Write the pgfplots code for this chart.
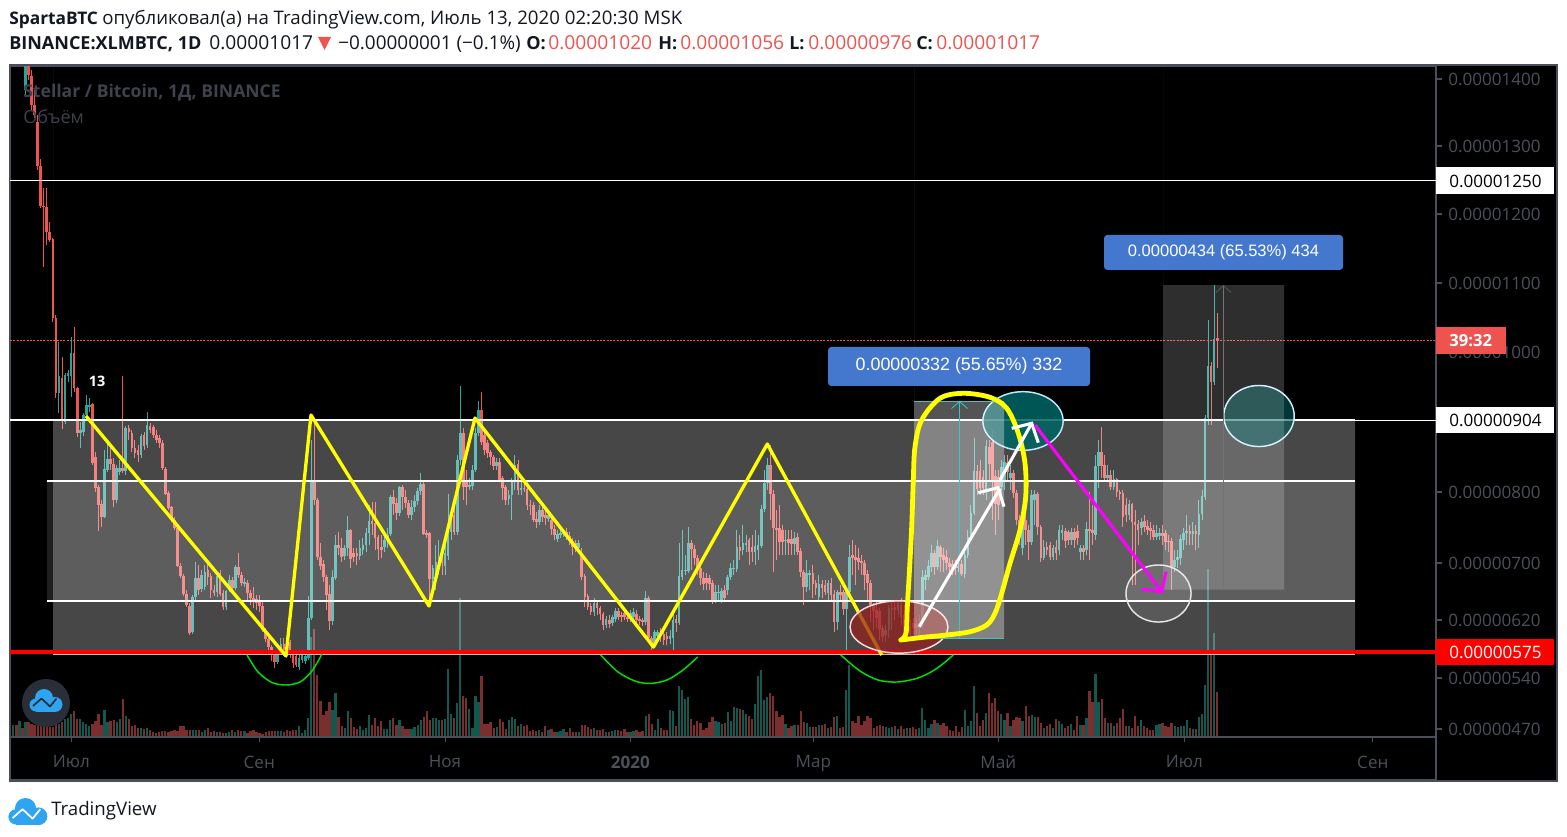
\documentclass[border=0pt]{standalone}
\usepackage{pgfplots}
\pgfplotsset{compat=1.18}
\usepackage{pgfplotstable}
\usepackage{fontspec}
\setmainfont{Open Sans}
\newfontfamily\arialf{Liberation Sans}
\definecolor{cred}{HTML}{EF5350}
\definecolor{cteal}{HTML}{26A69A}
\definecolor{vred}{HTML}{7A2E2D}
\definecolor{vteal}{HTML}{14574F}
\definecolor{axc}{HTML}{4A4E5A}
\definecolor{tkc}{HTML}{4C505B}
\definecolor{hdr}{HTML}{131722}
\definecolor{bluebox}{HTML}{4477CE}
\definecolor{cloudb}{HTML}{2FA4F0}
\definecolor{logod}{HTML}{2A2E39}
\definecolor{cyanl}{HTML}{35C8C8}
\definecolor{puremag}{HTML}{FF00FF}
\definecolor{pureyel}{HTML}{FFFF00}
\definecolor{purered}{HTML}{FF0000}
\definecolor{puregrn}{HTML}{00E000}
\newcommand{\fs}[1]{\fontsize{#1}{#1}\selectfont}
\pgfplotstableread{
i o c h l v
0 20 30 10 40 0
1 30 25 15 40 12
2 25 35 20 45 12
3 35 30 20 45 16
4 30 35 20 45 9
5 90 50 40 97 15
6 50 75 45 80 15
7 76 105 70 110 13
8 105 115 90 118 12
9 122 166 115 170 13
10 166 206 159 208 12
11 206 207 188 267 12
12 207 232 188 245 10
13 232 240 222 242 10
14 239 318 238 322 10
15 318 393 315 398 13
16 393 376 342 413 13
17 378 421 357 429 15
18 422 375 373 424 18
19 376 373 370 382 19
20 376 353 337 397 23
21 353 388 327 392 26
22 388 433 387 437 18
23 433 430 422 448 18
24 432 415 413 436 15
25 415 405 395 420 13
26 407 405 398 412 11
27 404 463 403 465 13
28 457 488 452 492 16
29 487 505 485 531 23
30 504 517 500 527 12
31 517 469 450 518 27
32 470 459 440 472 15
33 459 464 448 470 16
34 464 500 458 507 17
35 500 468 465 503 15
36 472 468 460 475 18
37 468 471 376 473 38
38 471 428 426 475 21
39 428 432 425 440 18
40 433 448 430 452 11
41 448 453 440 458 12
42 450 455 445 462 9
43 455 436 434 458 9
44 435 446 432 450 8
45 445 425 412 448 9
46 426 430 423 433 7
47 427 435 425 438 5
48 435 440 430 443 4
49 438 443 435 448 5
50 443 468 440 470 6
51 469 494 467 495 6
52 493 508 491 510 5
53 507 520 506 522 6
54 520 528 517 530 7
55 528 566 525 567 6
56 566 576 563 578 11
57 576 594 574 596 11
58 594 605 590 607 7
59 606 633 603 635 7
60 632 597 595 634 7
61 597 578 562 600 7
62 578 590 565 595 7
63 589 575 570 592 5
64 587 572 565 590 7
65 570 577 562 585 9
66 576 590 573 598 5
67 590 593 585 596 6
68 592 576 575 597 5
69 573 594 570 596 5
70 593 607 590 610 4
71 607 591 590 610 4
72 590 580 575 592 5
73 580 588 577 590 7
74 588 567 565 590 5
75 567 575 553 578 7
76 575 583 572 586 6
77 584 582 578 587 6
78 583 593 580 600 4
79 593 598 590 605 6
80 598 601 587 608 7
81 599 603 595 610 5
82 602 606 595 612 4
83 606 630 600 632 3
84 630 639 628 642 5
85 639 647 637 652 6
86 647 655 645 661 6
87 655 662 650 668 6
88 662 653 650 664 6
89 653 644 638 655 6
90 644 650 638 656 5
91 640 653 637 655 7
92 642 653 640 658 6
93 653 663 650 668 7
94 656 665 652 667 7
95 667 658 655 670 11
96 660 655 652 663 4
97 661 656 653 664 7
98 658 618 596 660 19
99 618 482 440 620 100
100 482 500 420 505 108
101 500 557 498 560 62
102 557 566 543 570 36
103 564 577 560 582 22
104 577 595 575 610 26
105 594 621 585 630 35
106 621 577 570 625 27
107 578 545 535 580 44
108 545 548 532 555 20
109 548 557 538 562 11
110 556 548 545 560 9
111 548 530 516 556 26
112 530 559 529 568 19
113 553 557 548 562 10
114 553 556 548 565 8
115 556 548 540 560 11
116 550 545 538 555 7
117 545 533 528 552 9
118 533 521 505 545 22
119 521 524 502 535 12
120 523 538 502 550 19
121 537 549 535 560 11
122 547 550 535 558 16
123 547 540 535 552 8
124 540 535 528 548 8
125 534 497 495 536 17
126 497 504 490 515 19
127 503 513 498 520 12
128 513 487 486 516 17
129 487 497 485 510 11
130 497 503 490 508 8
131 503 515 500 518 8
132 515 507 500 520 8
133 507 501 495 512 10
134 501 491 488 505 12
135 491 484 473 495 17
136 484 534 482 535 20
137 533 535 530 538 26
138 533 579 532 601 17
139 579 568 565 590 19
140 580 562 545 590 19
141 568 557 540 575 17
142 557 563 550 575 17
143 566 553 545 575 18
144 556 528 494 560 68
145 532 515 513 540 23
146 515 532 505 535 19
147 532 460 455 535 34
148 460 433 386 465 139
149 433 487 428 500 41
150 480 487 470 505 39
151 487 485 478 490 28
152 486 470 465 490 9
153 470 433 428 472 41
154 433 410 401 436 35
155 410 442 392 445 61
156 435 450 430 455 13
157 443 453 440 458 13
158 452 457 450 465 15
159 457 466 455 470 9
160 466 462 458 470 10
161 462 480 458 482 18
162 478 488 476 500 15
163 487 500 485 505 8
164 499 495 490 505 17
165 495 482 478 520 20
166 482 465 455 490 18
167 464 490 460 495 11
168 490 488 480 495 13
169 488 489 480 492 11
170 489 505 487 510 12
171 505 506 500 515 6
172 505 520 502 522 7
173 519 522 512 528 6
174 522 510 505 525 7
175 510 517 505 522 5
176 515 518 510 525 11
177 519 515 512 522 7
178 520 529 515 535 8
179 529 535 525 540 5
180 539 534 530 542 5
181 535 533 528 538 6
182 534 533 530 537 8
183 532 537 528 540 5
184 536 541 532 545 9
185 541 547 538 555 5
186 543 547 540 552 5
187 548 543 540 550 5
188 553 577 548 580 12
189 576 597 574 607 12
190 596 607 594 610 10
191 606 612 603 615 8
192 612 603 598 616 9
193 603 608 600 615 7
194 608 614 606 620 7
195 614 625 612 630 8
196 625 619 616 628 5
197 620 624 615 628 5
198 623 617 615 626 6
199 619 611 608 622 7
200 611 617 608 620 7
201 615 617 612 622 6
202 613 617 610 620 8
203 617 619 612 622 5
204 618 613 610 622 5
205 617 612 608 620 6
206 614 620 610 625 7
207 619 621 616 625 5
208 620 622 618 626 6
209 622 598 591 625 21
210 598 638 596 640 23
211 638 646 636 652 13
212 646 632 630 648 7
213 636 632 630 640 18
214 632 635 628 642 9
215 634 640 630 645 7
216 636 639 632 645 7
217 639 636 630 644 27
218 638 620 610 655 26
219 619 623 615 632 11
220 623 576 543 625 51
221 577 570 530 580 47
222 571 570 555 575 38
223 571 543 527 573 40
224 543 549 540 570 18
225 549 558 545 565 12
226 558 570 555 575 16
227 568 578 565 585 14
228 578 584 572 590 7
229 578 583 573 590 9
230 578 584 575 590 15
231 583 602 580 604 20
232 601 592 585 603 16
233 593 592 585 602 15
234 600 591 588 603 13
235 590 598 585 600 14
236 590 577 575 595 25
237 577 568 563 580 16
238 569 568 560 575 30
239 569 547 530 572 29
240 547 551 535 560 28
241 550 543 525 555 27
242 545 543 535 552 23
243 540 552 538 565 21
244 547 552 535 562 18
245 552 546 530 565 33
246 550 545 535 560 61
247 546 509 505 548 67
248 509 483 470 512 37
249 483 465 458 490 40
250 465 494 445 520 44
251 494 528 490 572 41
252 528 530 510 560 26
253 528 542 505 555 20
254 530 542 525 555 22
255 541 540 530 555 13
256 539 543 530 555 9
257 539 544 530 555 11
258 544 538 532 555 12
259 537 552 533 555 12
260 551 572 548 577 26
261 572 587 570 605 15
262 587 573 560 592 14
263 575 573 570 590 10
264 573 584 565 598 10
265 583 588 580 595 10
266 597 584 575 600 12
267 584 588 580 598 12
268 585 592 580 595 13
269 593 583 580 600 9
270 583 595 578 600 10
271 594 622 590 632 20
272 622 592 590 630 21
273 592 595 585 600 9
274 592 609 590 615 10
275 609 592 590 650 47
276 592 557 545 595 72
277 555 558 540 575 16
278 557 560 545 585 14
279 558 562 548 570 21
280 561 563 555 575 12
281 563 575 560 590 16
282 574 583 570 600 21
283 583 605 580 622 19
284 605 611 603 630 9
285 610 618 600 628 11
286 611 629 608 640 12
287 628 637 625 642 11
288 635 630 625 642 10
289 630 608 605 638 9
290 610 608 600 630 10
291 607 610 600 620 11
292 610 603 600 615 8
293 605 617 598 625 11
294 615 638 605 642 8
295 638 625 620 642 9
296 627 635 620 640 9
297 623 628 618 635 10
298 624 628 618 634 8
299 628 623 615 635 9
300 623 577 570 628 29
301 580 575 570 590 17
302 577 566 560 580 9
303 567 553 545 572 13
304 553 567 550 575 17
305 567 546 540 570 14
306 547 557 545 572 12
307 555 560 548 572 14
308 557 563 550 570 11
309 563 567 558 572 7
310 564 568 560 575 6
311 565 568 560 575 11
312 566 568 562 572 5
313 564 574 560 576 10
314 574 555 550 578 27
315 555 537 530 558 11
316 537 513 505 540 16
317 513 471 438 515 51
318 471 489 465 495 24
319 471 488 460 495 11
320 477 488 470 495 17
321 490 446 440 500 24
322 447 464 440 480 44
323 442 482 430 520 34
324 476 504 470 535 39
325 477 505 470 520 26
326 487 467 460 495 23
327 480 462 455 490 17
328 463 472 455 480 24
329 478 473 465 490 11
330 473 493 470 498 17
331 493 520 490 525 20
332 520 537 515 545 19
333 548 520 515 555 16
334 520 530 515 545 31
335 530 542 525 560 21
336 542 495 490 545 22
337 500 494 490 525 20
338 494 527 492 535 20
339 527 558 525 562 14
340 558 547 540 560 9
341 547 550 542 555 11
342 545 557 542 560 13
343 557 548 545 560 9
344 547 553 540 560 18
345 550 530 525 555 16
346 533 530 525 540 13
347 531 541 528 548 9
348 532 540 530 545 11
349 540 532 528 545 13
350 532 540 528 548 7
351 531 538 525 545 21
352 552 548 545 560 12
353 548 552 545 560 12
354 550 529 522 555 19
355 529 531 492 560 46
356 530 533 505 545 35
357 535 466 455 540 63
358 466 452 440 488 35
359 452 466 427 478 38
360 465 478 455 482 19
361 478 475 465 480 14
362 475 487 470 490 14
363 487 479 470 490 11
364 479 492 478 497 14
365 492 494 490 500 19
366 493 517 490 527 28
367 505 515 498 522 11
368 515 504 500 520 11
369 504 522 503 585 9
370 522 525 510 585 21
371 524 530 520 545 11
372 528 522 518 535 17
373 521 527 515 532 11
374 526 530 520 535 9
375 528 531 522 540 7
376 530 537 525 540 7
377 537 533 525 540 12
378 536 533 528 540 13
379 533 536 525 545 14
380 533 542 530 550 11
381 541 542 535 552 10
382 541 567 538 590 14
383 567 560 550 572 11
384 560 557 550 568 10
385 558 539 535 565 11
386 540 533 528 550 11
387 533 531 515 545 17
388 531 534 525 545 9
389 534 531 522 545 8
390 531 534 525 550 8
391 535 514 500 548 20
392 514 496 490 520 23
393 497 418 415 500 52
394 418 366 320 425 168
395 366 382 362 425 84
396 382 339 285 385 104
397 338 341 313 368 45
}\D
\newcommand{\cloudlogo}[1]{%
  \fill[cloudb] (6,16) circle (6.5); \fill[cloudb] (14,9) circle (9);
  \fill[cloudb] (25,15.5) circle (7.5); \fill[cloudb] (6,14) rectangle (26,23);
  \draw[#1,line width=1.3pt,line join=round] (3,17) -- (11.5,9.5) -- (20,17.5) -- (26.5,9.5);
}
\begin{document}
\begin{tikzpicture}
\begin{scope}[x=0.75pt,y=-0.75pt,shift={(-7.5pt,585pt)}]
\fill[white] (0,0) rectangle (1567,836);
\fill[black,draw=axc,line width=2pt] (10,65) rectangle (1557,781);
\end{scope}
\begin{axis}[
  x=0.75pt,y=0.75pt,y dir=reverse,
  xmin=10,xmax=1436,ymin=66,ymax=780,
  clip mode=individual,
  axis line style={draw=axc,line width=1pt},
  xtick={71.3,259.3,445,630.3,813.3,998.3,1184.3,1372.8},
  xticklabels={Июл,Сен,Ноя,\textbf{2020},Мар,Май,Июл,Сен},
  xtick pos=bottom,
  major x tick style={draw=none},
  xticklabel style={yshift=26.3pt,text=tkc,font=\fs{12.8pt}},
  ytick={79,146,214,283,352,492,563,620,678,729},
  yticklabels={0.00001400,0.00001300,0.00001200,0.00001100,0.00001000,0.00000800,0.00000700,0.00000620,0.00000540,0.00000470},
  ytick pos=right,yticklabel pos=right,
  tick align=outside,
  major tick length=4.5pt,
  major y tick style={draw=axc,line width=0.8pt},
  yticklabel style={anchor=west,xshift=1.2pt,yshift=-0.6pt,text=tkc,font=\fs{12.8pt}},
]
% volume
\addplot[draw=none,mark=none,forget plot,error bars/.cd,y dir=plus,y explicit,error mark=none,error bar style={draw=vteal,line width=1.7pt}]
 table[x expr={\thisrow{c}<\thisrow{o} ? 10.3+3.04*\thisrow{i} : nan},y expr={737-\thisrow{v}},y error plus expr={\thisrow{v}}]{\D};
\addplot[draw=none,mark=none,forget plot,error bars/.cd,y dir=plus,y explicit,error mark=none,error bar style={draw=vred,line width=1.7pt}]
 table[x expr={\thisrow{c}<\thisrow{o} ? nan : 10.3+3.04*\thisrow{i}},y expr={737-\thisrow{v}},y error plus expr={\thisrow{v}}]{\D};
% wicks
\addplot[draw=none,mark=none,forget plot,error bars/.cd,y dir=plus,y explicit,error mark=none,error bar style={draw=cteal,line width=0.7pt}]
 table[x expr={\thisrow{c}<\thisrow{o} ? 10.3+3.04*\thisrow{i} : nan},y=h,y error plus expr={\thisrow{l}-\thisrow{h}}]{\D};
\addplot[draw=none,mark=none,forget plot,error bars/.cd,y dir=plus,y explicit,error mark=none,error bar style={draw=cred,line width=0.7pt}]
 table[x expr={\thisrow{c}<\thisrow{o} ? nan : 10.3+3.04*\thisrow{i}},y=h,y error plus expr={\thisrow{l}-\thisrow{h}}]{\D};
% bodies
\addplot[draw=none,mark=none,forget plot,error bars/.cd,y dir=plus,y explicit,error mark=none,error bar style={draw=cteal,line width=2pt}]
 table[x expr={\thisrow{c}<\thisrow{o} ? 10.3+3.04*\thisrow{i} : nan},y=c,y error plus expr={\thisrow{o}-\thisrow{c}}]{\D};
\addplot[draw=none,mark=none,forget plot,error bars/.cd,y dir=plus,y explicit,error mark=none,error bar style={draw=cred,line width=2pt}]
 table[x expr={\thisrow{c}<\thisrow{o} ? nan : 10.3+3.04*\thisrow{i}},y=o,y error plus expr={\thisrow{c}-\thisrow{o}}]{\D};
% zones
\addplot[draw=none,fill=white,fill opacity=0.28,forget plot] coordinates {(53,420)(1355,420)(1355,652)(53,652)} \closedcycle;
\addplot[draw=none,fill=white,fill opacity=0.12,forget plot] coordinates {(47,481)(1355,481)(1355,601)(47,601)} \closedcycle;
% levels
\addplot[white,line width=0.75pt,forget plot] coordinates {(10,180.5)(1436,180.5)};
\addplot[white,line width=1.4pt,forget plot] coordinates {(10,420)(1355,420)};
\addplot[white,line width=0.75pt,forget plot] coordinates {(1355,420)(1436,420)};
\addplot[white,line width=1.1pt,forget plot] coordinates {(47,481)(1355,481)};
\addplot[white,line width=1.1pt,forget plot] coordinates {(47,601)(1355,601)};
\addplot[white!75!black,line width=0.8pt,forget plot] coordinates {(53,654)(1355,654)};
\addplot[purered,line width=2.4pt,forget plot] coordinates {(10,652)(1436,652)};
\addplot[cred,line width=0.7pt,dash pattern=on 1.5pt off 1pt,forget plot] coordinates {(10,340.5)(1436,340.5)};
% zigzag
\addplot[pureyel,line width=2.5pt,line join=round,forget plot] coordinates {(86,416)(286,656)(311,415)(429,606)(475,418)(653.5,647)(767.3,444)(881.7,655)};
% green arcs
\addplot[puregrn,line width=1.1pt,smooth,forget plot] coordinates {(247,655)(258,672)(272,682.5)(286,685)(300,682)(312,671)(322,654)};
\addplot[puregrn,line width=1.1pt,smooth,forget plot] coordinates {(600.7,655)(618,672)(635,681)(650,683.5)(667,680)(683,670)(697.7,657)};
\addplot[puregrn,line width=1.1pt,smooth,forget plot] coordinates {(840.7,655)(860,671)(878,680)(897,682)(918,678)(936,669)(953.3,655)};
% ellipses
\draw[draw=white!85!red,line width=1.1pt,fill={rgb,255:red,150;green,32;blue,32},fill opacity=0.72] (axis cs:899,627) ellipse [x radius=36.7pt,y radius=19.6pt];
\draw[draw=cyan!25!white,line width=1.1pt,fill={rgb,255:red,0;green,100;blue,100},fill opacity=0.85] (axis cs:1023,421) ellipse [x radius=30.1pt,y radius=22pt];
\draw[draw=white!90!black,line width=1.1pt,fill=white,fill opacity=0.1] (axis cs:1158.5,593.5) ellipse [x radius=24.4pt,y radius=21.4pt];
\draw[draw=cyan!20!white,line width=1.1pt,fill={rgb,255:red,0;green,90;blue,90},fill opacity=0.6] (axis cs:1259,416) ellipse [x radius=26.4pt,y radius=22.9pt];
% long positions
\addplot[draw=none,fill=white,fill opacity=0.33,forget plot] coordinates {(914,401)(1004,401)(1004,638)(914,638)} \closedcycle;
\addplot[cyanl,line width=0.6pt,forget plot] coordinates {(914,401)(1004,401)};
\addplot[cyanl,line width=0.6pt,forget plot] coordinates {(914,638)(1004,638)};
\addplot[cyanl,line width=0.6pt,forget plot] coordinates {(959.5,402)(959.5,638)};
\addplot[cyanl,line width=0.6pt,forget plot] coordinates {(951.5,408.5)(959.5,401.5)(967.5,408.5)};
\addplot[draw=none,fill=white,fill opacity=0.18,forget plot] coordinates {(1163,285)(1284,285)(1284,589.5)(1163,589.5)} \closedcycle;
\addplot[white!45!black,line width=0.6pt,forget plot] coordinates {(1223.4,286)(1223.4,589.5)};
\addplot[white!35!black,line width=0.6pt,forget plot] coordinates {(1216,292.5)(1223.4,285.5)(1231,292.5)};
% hand curve
\addplot[pureyel,line width=3.6pt,smooth,tension=0.55,line cap=round,forget plot] coordinates {(900.7,640)(906,633.3)(907.3,606.7)(909.3,573.3)(911.7,526.7)(913.3,480)(915,446.7)(921.7,420)(940,398.3)(963.3,393.3)(990,397.3)(1006.7,408.3)(1018.3,433.3)(1025,463.3)(1025.7,496.7)(1020,530)(1010,563.3)(1001.7,593.3)(995,613.3)(986.7,625)(970,631.7)(946.7,635)(923.3,637.3)(900.7,640)};
% arrows
\addplot[white,line width=2.3pt,forget plot] coordinates {(919.3,626.7)(1000,488.3)};
\addplot[white,line width=2.3pt,forget plot] coordinates {(978.3,492.7)(998,487.7)(1004,506.7)};
\addplot[white,line width=2.3pt,forget plot] coordinates {(1000,480)(1031.7,423.3)};
\addplot[white,line width=2.3pt,forget plot] coordinates {(1011.7,428.3)(1031.7,423.3)(1038.3,442.7)};
\addplot[puremag,line width=2.3pt,forget plot] coordinates {(1035,425)(1161.7,591.7)};
\addplot[puremag,line width=2.3pt,forget plot] coordinates {(1141.7,589.3)(1161.7,591.7)(1166,571.7)};
\end{axis}
\begin{scope}[x=0.75pt,y=-0.75pt,shift={(-7.5pt,585pt)}]
% x ticks
\foreach \t in {71.3,259.3,445,630.3,813.3,998.3,1184.3,1372.8} \draw[axc,line width=0.7pt] (\t,737) -- (\t,742);
\draw[axc,line width=0.8pt] (10,737) -- (1436,737);
% watermark
\node[anchor=base west,inner sep=0,text=axc!85!black] at (23,98) {\fs{13.2pt}\bfseries Stellar / Bitcoin, 1Д, BINANCE};
\node[anchor=base west,inner sep=0,text=axc!85!black] at (23,124) {\fs{13.5pt}Объём};
\node[text=white] at (97,381) {\fs{10.8pt}\bfseries 13};
% header
\node[anchor=base west,inner sep=0,text=hdr] at (9,25) {\fs{13pt}\textbf{SpartaBTC}};
\node[anchor=base west,inner sep=0,text=hdr] at (102,25) {\fs{14pt}опубликовал(а) на TradingView.com, Июль 13, 2020 02:20:30 MSK};
\node[anchor=base west,inner sep=0,text=hdr] at (9,50) {\fs{13.5pt}\textbf{BINANCE:XLMBTC, 1D}};
\node[anchor=base west,inner sep=0,text=hdr] at (209,50) {\fs{14.4pt}0.00001017};
\fill[cred] (318,37) -- (331,37) -- (324.5,50) -- cycle;
\node[anchor=base west,inner sep=0,text=hdr] at (338,50) {\fs{14.2pt}−0.00000001 (−0.1\%)};
\node[anchor=base west,inner sep=0,text=hdr] at (526,50) {\fs{13.5pt}\textbf{O:}};
\node[anchor=base west,inner sep=0,text=cred] at (548,50) {\fs{14.4pt}0.00001020};
\node[anchor=base west,inner sep=0,text=hdr] at (658,50) {\fs{13.5pt}\textbf{H:}};
\node[anchor=base west,inner sep=0,text=cred] at (680,50) {\fs{14.4pt}0.00001056};
\node[anchor=base west,inner sep=0,text=hdr] at (789,50) {\fs{13.5pt}\textbf{L:}};
\node[anchor=base west,inner sep=0,text=cred] at (808,50) {\fs{14.4pt}0.00000976};
\node[anchor=base west,inner sep=0,text=hdr] at (916,50) {\fs{13.5pt}\textbf{C:}};
\node[anchor=base west,inner sep=0,text=cred] at (936,50) {\fs{14.4pt}0.00001017};
% right labels
\fill[white] (1436,167) rectangle (1554,194);
\node[anchor=west,inner sep=0,text=black] at (1449,181) {\fs{12.8pt}0.00001250};
\fill[white] (1436,407) rectangle (1554,433);
\node[anchor=west,inner sep=0,text=black] at (1449,420) {\fs{12.8pt}0.00000904};
\fill[purered] (1436,639) rectangle (1554,665);
\node[anchor=west,inner sep=0,text=white] at (1449,652) {\fs{12.8pt}0.00000575};
\fill[cred] (1436,327) rectangle (1506,354);
\node[anchor=west,inner sep=0,text=white] at (1449,340.5) {\fs{12.5pt}\bfseries 39:32};
% blue boxes
\fill[bluebox,rounded corners=2.5pt] (828,347) rectangle (1090,386);
\node[text=white,inner sep=0] at (959,365.5) {\arialf\fs{13.4pt}0.00000332 (55.65\%) 332};
\fill[bluebox,rounded corners=2.5pt] (1104,235) rectangle (1343,270);
\node[text=white,inner sep=0] at (1223.5,252) {\arialf\fs{12.4pt}0.00000434 (65.53\%) 434};
% logos
\fill[logod] (46,703) circle (24);
\begin{scope}[shift={(30,689)}]\cloudlogo{logod}\end{scope}
\begin{scope}[shift={(9,798)},scale=1.18]\cloudlogo{white}\end{scope}
\node[anchor=base west,inner sep=0,text=hdr] at (51,815) {\fs{14pt}TradingView};
\end{scope}
\end{tikzpicture}
\end{document}
